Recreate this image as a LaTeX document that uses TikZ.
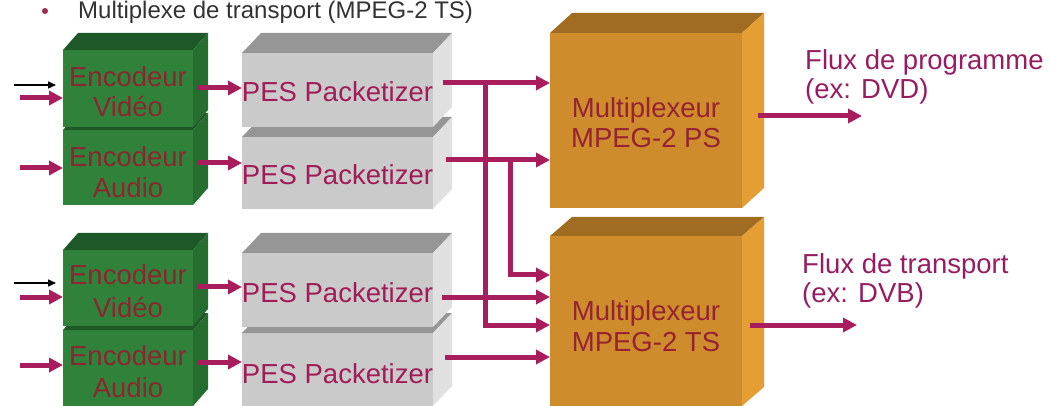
\documentclass[tikz,border=0pt]{standalone}
\usepackage{fontspec}
\setmainfont{Liberation Sans}
\usetikzlibrary{arrows.meta,calc}

\definecolor{greenfront}{RGB}{48,130,58}
\definecolor{greentop}{RGB}{30,88,40}
\definecolor{greenside}{RGB}{38,110,48}
\definecolor{greyfront}{RGB}{202,202,202}
\definecolor{greytop}{RGB}{150,150,150}
\definecolor{greyside}{RGB}{224,224,224}
\definecolor{orangefront}{RGB}{206,140,44}
\definecolor{orangetop}{RGB}{160,108,34}
\definecolor{orangeside}{RGB}{228,158,52}
\definecolor{flowcol}{RGB}{168,30,92}
\definecolor{enccol}{RGB}{140,38,48}
\definecolor{muxcol}{RGB}{150,34,50}
\definecolor{pescol}{RGB}{160,28,88}
\definecolor{fluxcol}{RGB}{150,30,96}
\definecolor{titlecol}{RGB}{50,50,50}
\definecolor{bulletcol}{RGB}{158,42,78}

\tikzset{
  facebox/.style={rectangle, draw=none, inner sep=0pt, outer sep=0pt},
  bigtext/.style={font=\fontsize{27.5}{30}\selectfont, inner sep=0pt, anchor=base},
  enctext/.style={bigtext, text=enccol},
  pestext/.style={bigtext, text=pescol},
  muxtext/.style={bigtext, text=muxcol},
  fluxtext/.style={bigtext, text=fluxcol, anchor=base west},
  titletext/.style={font=\fontsize{24}{28}\selectfont, text=titlecol, inner sep=0pt, anchor=base west},
  flow/.style={draw=flowcol, line width=5pt, -{Triangle[length=14pt,width=14pt]}},
  thinflow/.style={draw=black, line width=1.5pt, -{Triangle[length=8pt,width=7pt]}},
}

% \cuboidblock{name}{left}{top}{right}{bottom}{depth x}{depth y}{colour prefix}
\newcommand\cuboidblock[8]{%
  \node[facebox, fill=#8front, minimum width={(#4-#2)*1pt},
        minimum height={(#5-#3)*1pt}, anchor=north west] (#1) at (#2,#3) {};
  \fill[#8top] (#1.north west) -- ++(#6,-#7) -- ++(#4-#2,0) -- (#1.north east) -- cycle;
  \fill[#8side] (#1.north east) -- ++(#6,-#7) -- ++(0,#5-#3) -- (#1.south east) -- cycle;
}

\begin{document}
\begin{tikzpicture}[x=1pt,y=-1pt]
\useasboundingbox[fill=white] (0,0) rectangle (1050,406);

% heading
\node[circle, fill=bulletcol, inner sep=0pt, minimum size=6pt] (bullet) at (45,11) {};
\node[titletext] (title) at (78,19) {Multiplexe de transport (MPEG-2 TS)};

% encoders (lower block first so the upper one sits in front)
\cuboidblock{a1}{63}{130}{193}{205}{15}{17}{green}
\cuboidblock{v1}{63}{50}{193}{127}{15}{17}{green}
\cuboidblock{a2}{63}{330}{193}{406}{15}{17}{green}
\cuboidblock{v2}{63}{250}{193}{326}{15}{17}{green}

% packetizers
\cuboidblock{p2}{242}{137}{433}{209}{19}{20}{grey}
\cuboidblock{p1}{242}{53}{433}{127}{19}{20}{grey}
\cuboidblock{p4}{242}{333}{433}{406}{19}{20}{grey}
\cuboidblock{p3}{242}{253}{433}{327}{19}{20}{grey}

% multiplexers
\cuboidblock{ps}{550}{33}{742}{208}{22}{20}{orange}
\cuboidblock{ts}{550}{236}{742}{406}{22}{19}{orange}

% labels
\node[enctext] (v1a) at ($(v1.north)+(0,37)$) {Encodeur};
\node[enctext] (v1b) at ($(v1.north)+(0,67)$) {Vidéo};
\node[enctext] (a1a) at ($(a1.north)+(0,37)$) {Encodeur};
\node[enctext] (a1b) at ($(a1.north)+(0,68)$) {Audio};
\node[enctext] (v2a) at ($(v2.north)+(0,34)$) {Encodeur};
\node[enctext] (v2b) at ($(v2.north)+(0,67)$) {Vidéo};
\node[enctext] (a2a) at ($(a2.north)+(0,35)$) {Encodeur};
\node[enctext] (a2b) at ($(a2.north)+(0,67)$) {Audio};

\node[pestext] (p1t) at ($(p1.north)+(0,49)$) {PES Packetizer};
\node[pestext] (p2t) at ($(p2.north)+(0,48)$) {PES Packetizer};
\node[pestext] (p3t) at ($(p3.north)+(0,49)$) {PES Packetizer};
\node[pestext] (p4t) at ($(p4.north)+(0,50)$) {PES Packetizer};

\node[muxtext] (ps1) at ($(ps.north)+(0,85)$) {Multiplexeur};
\node[muxtext] (ps2) at ($(ps.north)+(0,115)$) {MPEG-2 PS};
\node[muxtext] (ts1) at ($(ts.north)+(0,84)$) {Multiplexeur};
\node[muxtext] (ts2) at ($(ts.north)+(0,115)$) {MPEG-2 TS};

\node[fluxtext] (fp1) at (805,70) {Flux de programme};
\node[fluxtext] (fp2) at (805,99) {(ex: DVD)};
\node[fluxtext] (ft1) at (802,274) {Flux de transport};
\node[fluxtext] (ft2) at (802,302) {(ex: DVB)};

% inputs
\draw[thinflow] ($(v1.north west)+(-49,35)$) -- ($(v1.north west)+(-7,35)$);
\draw[flow] ($(v1.north west)+(-43,48)$) -- ($(v1.north west)+(0,48)$);
\draw[flow] ($(a1.north west)+(-43,38)$) -- ($(a1.north west)+(0,38)$);
\draw[thinflow] ($(v2.north west)+(-49,33)$) -- ($(v2.north west)+(-7,33)$);
\draw[flow] ($(v2.north west)+(-43,47)$) -- ($(v2.north west)+(0,47)$);
\draw[flow] ($(a2.north west)+(-43,35)$) -- ($(a2.north west)+(0,35)$);

% encoder to packetizer
\draw[flow] ($(v1.north east)+(4,38)$) -- ($(v1.north east -| p1.west)+(0,38)$);
\draw[flow] ($(a1.north east)+(4,33)$) -- ($(a1.north east -| p2.west)+(0,33)$);
\draw[flow] ($(v2.north east)+(4,37)$) -- ($(v2.north east -| p3.west)+(0,37)$);
\draw[flow] ($(a2.north east)+(4,32)$) -- ($(a2.north east -| p4.west)+(0,32)$);

% packetizers to multiplexers
\coordinate (j1) at (485,83);
\coordinate (j2) at (510,160);
\draw[flow] ($(p1.east |- j1)+(10,0)$) -- (ps.west |- j1);
\draw[flow] ($(p2.east |- j2)+(13,0)$) -- (ps.west |- j2);
\draw[flow] (j1) |- (ts.west |- 0,325);
\draw[flow] (j2) |- (ts.west |- 0,275);
\draw[flow] ($(p3.east |- 0,297)+(9,0)$) -- (ts.west |- 0,297);
\draw[flow] ($(p4.east |- 0,357)+(12,0)$) -- (ts.west |- 0,357);

% outputs
\coordinate (outps) at (862,116);
\coordinate (outts) at (857,325);
\draw[flow] ($(ps.east |- outps)+(16,0)$) -- (outps);
\draw[flow] ($(ts.east |- outts)+(8,0)$) -- (outts);
\end{tikzpicture}
\end{document}
